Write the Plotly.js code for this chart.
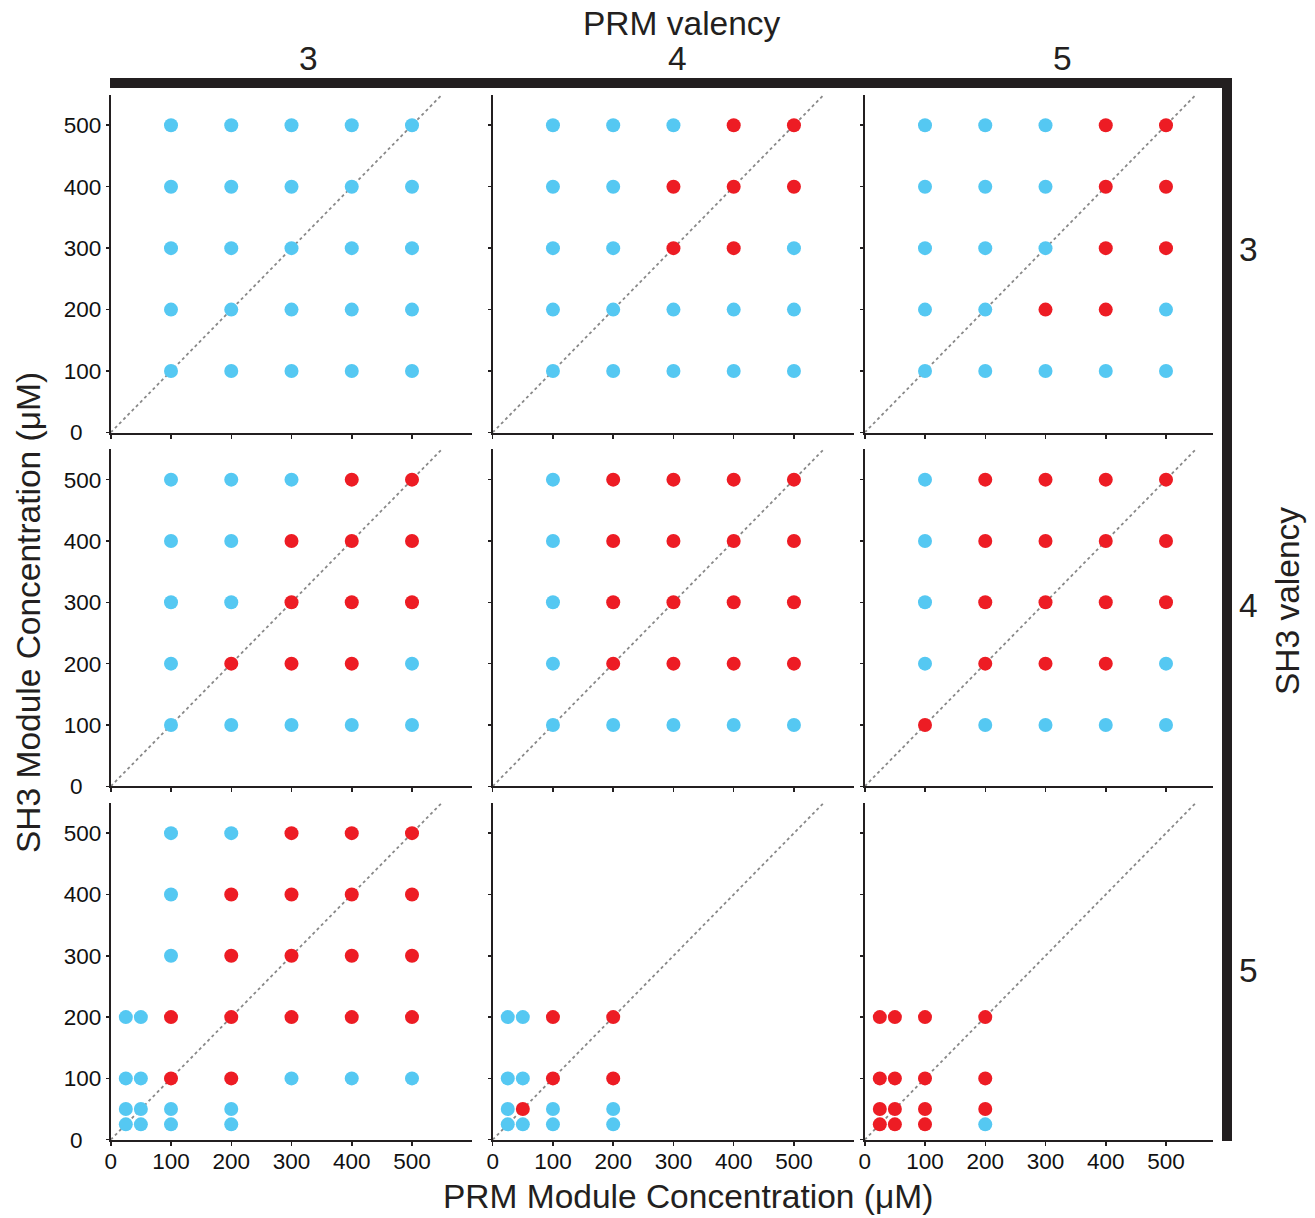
<!DOCTYPE html>
<html>
<head>
<meta charset="utf-8">
<script src="https://cdn.plot.ly/plotly-3.0.1.min.js"></script>
<style>
  html, body { margin: 0; padding: 0; background: #fff; }
  #chart { width: 1315px; height: 1218px; }
</style>
</head>
<body>
<div id="chart"></div>
<script>
// Phase-separation outcome grids for SH3 / PRM module mixtures.
// 1 = condensate formed (red), 0 = no condensate (blue), null = not tested.

const prmValency = [3, 4, 5];
const sh3Valency = [3, 4, 5];

const concX = [100, 200, 300, 400, 500];
const concY = [500, 400, 300, 200, 100];
const concXWide = [25, 50, 100, 200, 300, 400, 500];
const concYWide = [500, 400, 300, 200, 100, 50, 25];
const concXLow = [25, 50, 100, 200];
const concYLow = [200, 100, 50, 25];

const tickValues = [0, 100, 200, 300, 400, 500];
const tickLabels = ['0', '100', '200', '300', '400', '500'];
const diagonalExtent = [0, 550];

// SH3 valency 3
const s3p3 = [
  [0, 0, 0, 0, 0],
  [0, 0, 0, 0, 0],
  [0, 0, 0, 0, 0],
  [0, 0, 0, 0, 0],
  [0, 0, 0, 0, 0]
];
const s3p4 = [
  [0, 0, 0, 1, 1],
  [0, 0, 1, 1, 1],
  [0, 0, 1, 1, 0],
  [0, 0, 0, 0, 0],
  [0, 0, 0, 0, 0]
];
const s3p5 = [
  [0, 0, 0, 1, 1],
  [0, 0, 0, 1, 1],
  [0, 0, 0, 1, 1],
  [0, 0, 1, 1, 0],
  [0, 0, 0, 0, 0]
];
// SH3 valency 4
const s4p3 = [
  [0, 0, 0, 1, 1],
  [0, 0, 1, 1, 1],
  [0, 0, 1, 1, 1],
  [0, 1, 1, 1, 0],
  [0, 0, 0, 0, 0]
];
const s4p4 = [
  [0, 1, 1, 1, 1],
  [0, 1, 1, 1, 1],
  [0, 1, 1, 1, 1],
  [0, 1, 1, 1, 1],
  [0, 0, 0, 0, 0]
];
const s4p5 = [
  [0, 1, 1, 1, 1],
  [0, 1, 1, 1, 1],
  [0, 1, 1, 1, 1],
  [0, 1, 1, 1, 0],
  [1, 0, 0, 0, 0]
];
// SH3 valency 5
const s5p3 = [
  [null, null, 0, 0, 1, 1, 1],
  [null, null, 0, 1, 1, 1, 1],
  [null, null, 0, 1, 1, 1, 1],
  [0, 0, 1, 1, 1, 1, 1],
  [0, 0, 1, 1, 0, 0, 0],
  [0, 0, 0, 0, null, null, null],
  [0, 0, 0, 0, null, null, null]
];
const s5p4 = [
  [0, 0, 1, 1],
  [0, 0, 1, 1],
  [0, 1, 0, 0],
  [0, 0, 0, 0]
];
const s5p5 = [
  [1, 1, 1, 1],
  [1, 1, 1, 1],
  [1, 1, 1, 1],
  [1, 1, 1, 0]
];

const panels = [
  { grid: s3p3, xs: concX, ys: concY },
  { grid: s3p4, xs: concX, ys: concY },
  { grid: s3p5, xs: concX, ys: concY },
  { grid: s4p3, xs: concX, ys: concY },
  { grid: s4p4, xs: concX, ys: concY },
  { grid: s4p5, xs: concX, ys: concY },
  { grid: s5p3, xs: concXWide, ys: concYWide },
  { grid: s5p4, xs: concXLow, ys: concYLow },
  { grid: s5p5, xs: concXLow, ys: concYLow }
];

const W = 1315, H = 1218;
const COLOR_NO = '#55C8F2';
const COLOR_YES = '#ED1C24';
const INK = '#231F20';
const FONT = '"Liberation Sans", Arial, Helvetica, sans-serif';
const TITLE_SIZE = 33.5;
const TICK_SIZE = 22.5;

const px = v => v / W;
const py = v => 1 - v / H;

// pixel extents of each column / row of panels
const colSpan = [[110.75, 472.25], [492.7, 854.2], [864.75, 1213]];
const colRange = [[0, 600], [0, 600], [0, 578]];
const rowSpan = [[94.5, 432.5], [449, 786.3], [802.5, 1139.7]];

const traces = [];
const layout = {
  width: W, height: H,
  margin: { l: 0, r: 0, t: 0, b: 0 },
  paper_bgcolor: '#fff', plot_bgcolor: 'rgba(0,0,0,0)',
  showlegend: false,
  font: { family: FONT, color: INK },
  annotations: [],
  shapes: []
};

panels.forEach((p, i) => {
  const r = Math.floor(i / 3), c = i % 3;
  const n = i + 1;
  const xa = 'x' + (n === 1 ? '' : n), ya = 'y' + (n === 1 ? '' : n);
  const xKey = 'xaxis' + (n === 1 ? '' : n), yKey = 'yaxis' + (n === 1 ? '' : n);

  const xs = [], ys = [], cols = [];
  p.grid.forEach((row, ri) => {
    row.forEach((v, ci) => {
      if (v === null) return;
      xs.push(p.xs[ci]);
      ys.push(p.ys[ri]);
      cols.push(v === 1 ? COLOR_YES : COLOR_NO);
    });
  });

  // y = x guide line
  traces.push({
    type: 'scatter', mode: 'lines', xaxis: xa, yaxis: ya,
    x: diagonalExtent, y: diagonalExtent,
    line: { color: '#888888', width: 1.8, dash: 'dot' },
    hoverinfo: 'skip'
  });
  traces.push({
    type: 'scatter', mode: 'markers', xaxis: xa, yaxis: ya,
    x: xs, y: ys,
    marker: { size: 14, color: cols, line: { width: 0 } },
    cliponaxis: false
  });

  const yText = tickLabels.map(t => t === '0' ? '0\u00a0\u00a0\u00a0' : t);
  layout[xKey] = {
    domain: [px(colSpan[c][0]), px(colSpan[c][1])],
    range: colRange[c],
    anchor: ya,
    showline: true, linecolor: INK, linewidth: 2,
    ticks: 'outside', ticklen: 4, tickwidth: 1.5, tickcolor: INK,
    tickvals: tickValues, ticktext: tickLabels,
    showticklabels: r === 2,
    ticklabelstandoff: -4,
    tickfont: { size: TICK_SIZE, family: FONT, color: '#111' },
    showgrid: false, zeroline: false, fixedrange: true
  };
  layout[yKey] = {
    domain: [py(rowSpan[r][1]), py(rowSpan[r][0])],
    range: [0, 550],
    anchor: xa,
    showline: true, linecolor: INK, linewidth: 2,
    ticks: 'outside', ticklen: 3, tickwidth: 1.5, tickcolor: INK,
    tickvals: tickValues, ticktext: yText,
    showticklabels: c === 0,
    tickfont: { size: TICK_SIZE, family: FONT, color: '#111' },
    showgrid: false, zeroline: false, fixedrange: true
  };
});

const ann = (text, x, y, size, extra) => Object.assign({
  text: text, xref: 'paper', yref: 'paper', x: px(x), y: py(y),
  xanchor: 'center', yanchor: 'middle', showarrow: false,
  font: { size: size, family: FONT, color: INK }
}, extra || {});

layout.annotations.push(ann('PRM valency', 682, 24, TITLE_SIZE));
const colLabelX = [308, 677, 1062];
prmValency.forEach((v, i) => layout.annotations.push(ann(String(v), colLabelX[i], 58, TITLE_SIZE)));
const rowLabelY = [250, 605, 970];
sh3Valency.forEach((v, i) => layout.annotations.push(ann(String(v), 1248, rowLabelY[i], TITLE_SIZE)));
layout.annotations.push(ann('SH3 valency', 1287, 601, TITLE_SIZE, { textangle: -90 }));
layout.annotations.push(ann('SH3 Module Concentration (μM)', 28, 613, TITLE_SIZE, { textangle: -90 }));
layout.annotations.push(ann('PRM Module Concentration (μM)', 688, 1196, TITLE_SIZE));

// heavy frame bars framing the valency headers
layout.shapes.push({
  type: 'rect', xref: 'paper', yref: 'paper',
  x0: px(110), x1: px(1232), y0: py(88), y1: py(78),
  fillcolor: INK, line: { width: 0 }, layer: 'above'
});
layout.shapes.push({
  type: 'rect', xref: 'paper', yref: 'paper',
  x0: px(1222), x1: px(1232), y0: py(1141), y1: py(78),
  fillcolor: INK, line: { width: 0 }, layer: 'above'
});

Plotly.newPlot('chart', traces, layout, { staticPlot: true, displayModeBar: false });
</script>
</body>
</html>
